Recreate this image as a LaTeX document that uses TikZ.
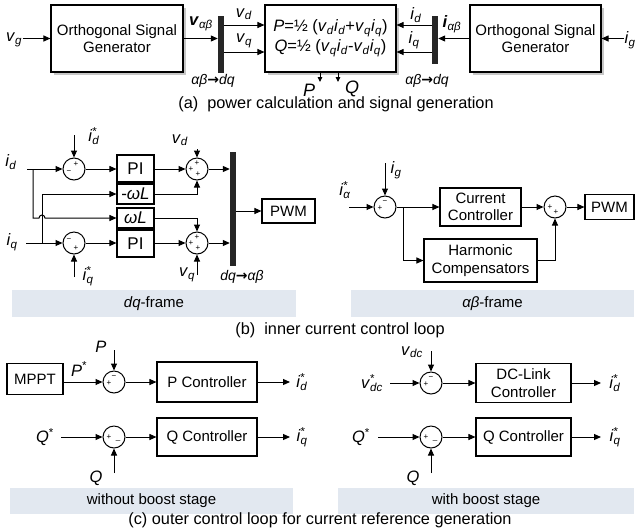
\documentclass[tikz,border=0pt]{standalone}
\usepackage{fontspec}
\setmainfont{Liberation Sans}
\newfontfamily\dejavu{DejaVu Sans}
\usetikzlibrary{arrows.meta,shadows,calc}
\definecolor{bandc}{RGB}{226,232,240}
\newcommand{\lsub}[2]{\textit{#1}\textsubscript{\textit{#2}}}
\newcommand{\lsubsup}[3]{\textit{#1}\rlap{\textsuperscript{#3}}\textsubscript{\textit{#2}}}
\newcommand{\rarr}{{\dejavu\bfseries →}}
\tikzset{
  blk/.style={draw, line width=1.1pt, inner sep=0pt, align=center, fill=white, font=\fontsize{15}{17.5}\selectfont},
  shblk/.style={blk, drop shadow={shadow xshift=3pt, shadow yshift=-3pt, fill=black!22, opacity=1}},
  bigblk/.style={blk, font=\fontsize{17}{18}\selectfont},
  sumc/.style={draw, circle, line width=1pt, minimum size=22pt, inner sep=0pt},
  barn/.style={fill=black!85, draw=none, inner sep=0pt, minimum width=6pt},
  arr/.style={line width=1pt, -{Triangle[length=7pt,width=6pt]}},
  sarr/.style={line width=1pt, -{Triangle[length=5pt,width=4.5pt]}},
  ln/.style={line width=1pt},
  lbl/.style={inner sep=0.5pt, font=\fontsize{16.5}{17}\selectfont},
  biglbl/.style={inner sep=0.5pt, font=\fontsize{18}{19}\selectfont},
  smlbl/.style={inner sep=0.5pt, font=\fontsize{14}{15}\selectfont},
  sgn/.style={inner sep=0pt, font=\fontsize{8}{8}\selectfont},
  bandn/.style={fill=bandc, draw=none, inner sep=0pt, font=\fontsize{15}{17}\selectfont},
  capn/.style={inner sep=0pt, font=\fontsize{16.3}{18}\selectfont},
}
\begin{document}
\begin{tikzpicture}[x=1pt,y=-1pt]
\useasboundingbox (0,0) rectangle (636,531);
% ---------------- (a) ----------------
\node[shblk, minimum width=132pt, minimum height=67pt] (osg1) at (117,38.5) {Orthogonal Signal\\Generator};
\node[lbl] (vg) at (14,40) {\lsub{v}{g}};
\draw[arr] (osg1.west -| vg.east) -- (osg1.west);
\node[barn, minimum height=57pt] (bar1) at (221,44.5) {};
\draw[arr] (osg1.east) -- (osg1.east -| bar1.west);
\node[lbl] (vab) at (201,24) {\textbf{\textit{v}}\textsubscript{\textit{αβ}}};
\node[shblk, minimum width=131pt, minimum height=67pt, font=\fontsize{16.5}{20}\selectfont] (pq) at (330.5,38.5)
  {\textit{P}=½ (\lsub{v}{d}\lsub{i}{d}+\lsub{v}{q}\lsub{i}{q})\\\textit{Q}=½ (\lsub{v}{q}\lsub{i}{d}-\lsub{v}{d}\lsub{i}{q})};
\coordinate (ya) at (0,25);
\coordinate (yb) at (0,52);
\draw[arr] (bar1.east |- ya) -- (pq.west |- ya);
\draw[arr] (bar1.east |- yb) -- (pq.west |- yb);
\node[lbl] (vd) at (244,14) {\lsub{v}{d}};
\node[lbl] (vq) at (244,41) {\lsub{v}{q}};
\node[smlbl] (abdq1) at (213,81) {\textit{αβ}\rarr\textit{dq}};
\coordinate (po) at (320,82);
\coordinate (qo) at (338,82);
\draw[sarr] (pq.south -| po) -- (po);
\draw[sarr] (pq.south -| qo) -- (qo);
\node[biglbl] (Pl) at (309,90) {\textit{P}};
\node[biglbl] (Ql) at (352,88.5) {\textit{Q}};
\node[barn, minimum height=48pt] (bar2) at (435,40) {};
\node[shblk, minimum width=131pt, minimum height=67pt] (osg2) at (535.5,38.5) {Orthogonal Signal\\Generator};
\draw[arr] (osg2.west) -- (osg2.west -| bar2.east);
\draw[arr] (bar2.west |- ya) -- (pq.east |- ya);
\draw[arr] (bar2.west |- yb) -- (pq.east |- yb);
\node[lbl] (idl) at (416,15) {\lsub{i}{d}};
\node[lbl] (iql) at (414,40) {\lsub{i}{q}};
\node[lbl] (iab) at (452,24) {\textbf{\textit{i}}\textsubscript{\textit{αβ}}};
\node[smlbl] (abdq2) at (427,81) {\textit{αβ}\rarr\textit{dq}};
\node[lbl] (ig) at (630,40) {\lsub{i}{g}};
\draw[arr] (osg2.east -| ig.west) -- (osg2.east);
\node[capn] (capa) at (336,104) {(a)\ \ power calculation and signal generation};
% ---------------- (b) dq-frame ----------------
\node[sumc] (s1) at (74,169) {};
\node[sumc] (s2) at (197,169) {};
\node[sumc] (s3) at (197,243) {};
\node[sumc] (s4) at (74,243) {};
\node[bigblk, minimum width=37pt, minimum height=27pt] (pi1) at (135.5,168.5) {PI};
\node[bigblk, minimum width=37pt, minimum height=20pt] (nwl) at (135.5,194) {-\textit{ωL}};
\node[bigblk, minimum width=37pt, minimum height=20pt] (wl) at (135.5,218) {\textit{ωL}};
\node[bigblk, minimum width=37pt, minimum height=27pt] (pi2) at (135.5,243.5) {PI};
\node[barn, minimum height=114pt] (bar3) at (233,209) {};
\node[blk, minimum width=53pt, minimum height=24pt] (pwm1) at (288.5,211) {PWM};
\node[lbl] (idin) at (11,162) {\lsub{i}{d}};
\node[lbl] (iqin) at (12,242) {\lsub{i}{q}};
\coordinate (ids) at (27,169);
\coordinate (iqs) at (26,243);
\draw[arr] (ids) -- (s1.west);
\draw[arr] (iqs) -- (s4.west);
\node[lbl] (idst) at (94,136) {\lsubsup{i}{d}{*}};
\coordinate (idsa) at (74,135);
\draw[arr] (idsa) -- (s1.north);
\node[lbl] (iqst) at (88,276) {\lsubsup{i}{q}{*}};
\coordinate (iqsa) at (74,277);
\draw[arr] (iqsa) -- (s4.south);
\node[lbl] (vdin) at (180,140) {\lsub{v}{d}};
\coordinate (vda) at (197,149);
\draw[arr] (vda) -- (s2.north);
\node[lbl] (vqin) at (187,275) {\lsub{v}{q}};
\coordinate (vqa) at (197,275);
\draw[arr] (vqa) -- (s3.south);
\draw[arr] (s1.east) -- (pi1.west |- s1.east);
\draw[arr] (pi1.east |- s2.west) -- (s2.west);
\draw[arr] (s4.east) -- (pi2.west |- s4.east);
\draw[arr] (pi2.east |- s3.west) -- (s3.west);
\draw[arr] (nwl.east) -| (s2.south);
\draw[arr] (wl.east) -| (s3.north);
\draw[arr] (s2.east) -- (s2.east -| bar3.west);
\draw[arr] (s3.east) -- (s3.east -| bar3.west);
\draw[arr] (pwm1.west -| bar3.east) -- (pwm1.west);
\coordinate (bra) at (33,169);
\coordinate (brb) at (42,243);
\draw[arr] (bra) -- (bra |- wl.west) -- (39,218) arc (180:360:3) -- (wl.west);
\draw[arr] (brb) -- (brb |- nwl.west) -- (nwl.west);
\node[sgn] at ($(s1)+(2,-5)$) {+};
\node[sgn] at ($(s1)+(-5,3)$) {−};
\node[sgn] at ($(s2)+(0,-6)$) {+};
\node[sgn] at ($(s2)+(-6,0)$) {+};
\node[sgn] at ($(s2)+(1,5)$) {+};
\node[sgn] at ($(s3)+(0,-6)$) {+};
\node[sgn] at ($(s3)+(-6,0)$) {+};
\node[sgn] at ($(s3)+(1,5)$) {+};
\node[sgn] at ($(s4)+(-5,-3)$) {−};
\node[sgn] at ($(s4)+(2,5)$) {+};
\node[smlbl] (dqab) at (242,277) {\textit{dq}\rarr\textit{αβ}};
\node[bandn, minimum width=284pt, minimum height=27pt] (banddq) at (154,303.5) {\textit{dq}-frame};
% ---------------- (b) alpha-beta frame ----------------
\node[sumc] (s5) at (385,207) {};
\node[sumc] (s6) at (555,207) {};
\node[blk, minimum width=81pt, minimum height=38pt] (cc) at (480.5,207) {Current\\Controller};
\node[blk, minimum width=113pt, minimum height=43pt] (hc) at (480.5,260.5) {Harmonic\\Compensators};
\node[blk, minimum width=49pt, minimum height=25pt] (pwm2) at (609.5,207) {PWM};
\node[lbl] (igb) at (396,170) {\lsub{i}{g}};
\coordinate (iga) at (385,163);
\draw[arr] (iga) -- (s5.north);
\node[lbl] (iast) at (345,190) {\lsubsup{i}{α}{*}};
\coordinate (iaa) at (349,207);
\draw[arr] (iaa) -- (s5.west);
\draw[arr] (s5.east) -- (cc.west);
\coordinate (brc) at (403,207);
\draw[arr] (brc) |- (hc.west);
\draw[arr] (cc.east) -- (s6.west);
\draw[arr] (hc.east) -| (s6.south);
\draw[arr] (s6.east) -- (pwm2.west);
\node[sgn] at ($(s5)+(0,-5)$) {−};
\node[sgn] at ($(s5)+(-5,1)$) {+};
\node[sgn] at ($(s6)+(-5,0)$) {+};
\node[sgn] at ($(s6)+(1,5)$) {+};
\node[bandn, minimum width=283pt, minimum height=27pt] (bandab) at (492.5,303.5) {\textit{αβ}-frame};
\node[capn] (capb) at (340,330) {(b)\ \ inner current control loop};
% ---------------- (c) without boost ----------------
\node[blk, minimum width=56pt, minimum height=31pt] (mppt) at (35,379) {MPPT};
\node[sumc] (s7) at (114,382) {};
\node[blk, minimum width=100pt, minimum height=40pt] (pc) at (207,382) {P Controller};
\node[lbl] (pst) at (79,369) {\textit{P}\textsuperscript{*}};
\draw[arr] (mppt.east |- s7.west) -- (s7.west);
\node[lbl] (pin) at (101,347) {\textit{P}};
\coordinate (pa) at (114,350);
\draw[arr] (pa) -- (s7.north);
\draw[arr] (s7.east) -- (pc.west);
\coordinate (ido) at (290,382);
\draw[arr] (pc.east) -- (ido);
\node[lbl] (idot) at (302,382) {\lsubsup{i}{d}{*}};
\node[sgn] at ($(s7)+(0,-5)$) {−};
\node[sgn] at ($(s7)+(-5,1)$) {+};
\node[sumc] (s8) at (114,437) {};
\node[blk, minimum width=100pt, minimum height=38pt] (qc) at (207,437) {Q Controller};
\node[lbl] (qst) at (45,437) {\textit{Q}\textsuperscript{*}};
\coordinate (qsa) at (61,437);
\draw[arr] (qsa) -- (s8.west);
\draw[arr] (s8.east) -- (qc.west);
\coordinate (iqo) at (290,437);
\draw[arr] (qc.east) -- (iqo);
\node[lbl] (iqot) at (302,437) {\lsubsup{i}{q}{*}};
\node[lbl] (qin) at (96,478) {\textit{Q}};
\coordinate (qa) at (114,473);
\draw[arr] (qa) -- (s8.south);
\node[sgn] at ($(s8)+(-5,0)$) {+};
\node[sgn] at ($(s8)+(4,3)$) {\_};
\node[bandn, minimum width=283pt, minimum height=26pt] (bandwo) at (151.5,501) {without boost stage};
% ---------------- (c) with boost ----------------
\node[sumc] (s9) at (431,383) {};
\node[blk, minimum width=95pt, minimum height=39pt] (dcl) at (523.5,383) {DC-Link\\Controller};
\node[lbl] (vdc) at (412,352) {\lsub{v}{dc}};
\coordinate (vdca) at (431,351);
\draw[arr] (vdca) -- (s9.north);
\node[lbl] (vdcst) at (372,383) {\lsubsup{v}{dc}{*}};
\coordinate (vdcsa) at (390,383);
\draw[arr] (vdcsa) -- (s9.west);
\draw[arr] (s9.east) -- (dcl.west);
\coordinate (ido2) at (601,383);
\draw[arr] (dcl.east) -- (ido2);
\node[lbl] (idot2) at (615,383) {\lsubsup{i}{d}{*}};
\node[sgn] at ($(s9)+(0,-5)$) {−};
\node[sgn] at ($(s9)+(-5,1)$) {+};
\node[sumc] (s10) at (431,437) {};
\node[blk, minimum width=95pt, minimum height=38pt] (qc2) at (523.5,437) {Q Controller};
\node[lbl] (qst2) at (361,437) {\textit{Q}\textsuperscript{*}};
\coordinate (qsa2) at (378,437);
\draw[arr] (qsa2) -- (s10.west);
\draw[arr] (s10.east) -- (qc2.west);
\coordinate (iqo2) at (601,437);
\draw[arr] (qc2.east) -- (iqo2);
\node[lbl] (iqot2) at (615,437) {\lsubsup{i}{q}{*}};
\node[lbl] (qin2) at (413,478) {\textit{Q}};
\coordinate (qa2) at (431,473);
\draw[arr] (qa2) -- (s10.south);
\node[sgn] at ($(s10)+(-5,0)$) {+};
\node[sgn] at ($(s10)+(4,3)$) {\_};
\node[bandn, minimum width=296pt, minimum height=26pt] (bandw) at (486,501) {with boost stage};
\node[capn] (capc) at (320,520) {(c) outer control loop for current reference generation};
\end{tikzpicture}
\end{document}
